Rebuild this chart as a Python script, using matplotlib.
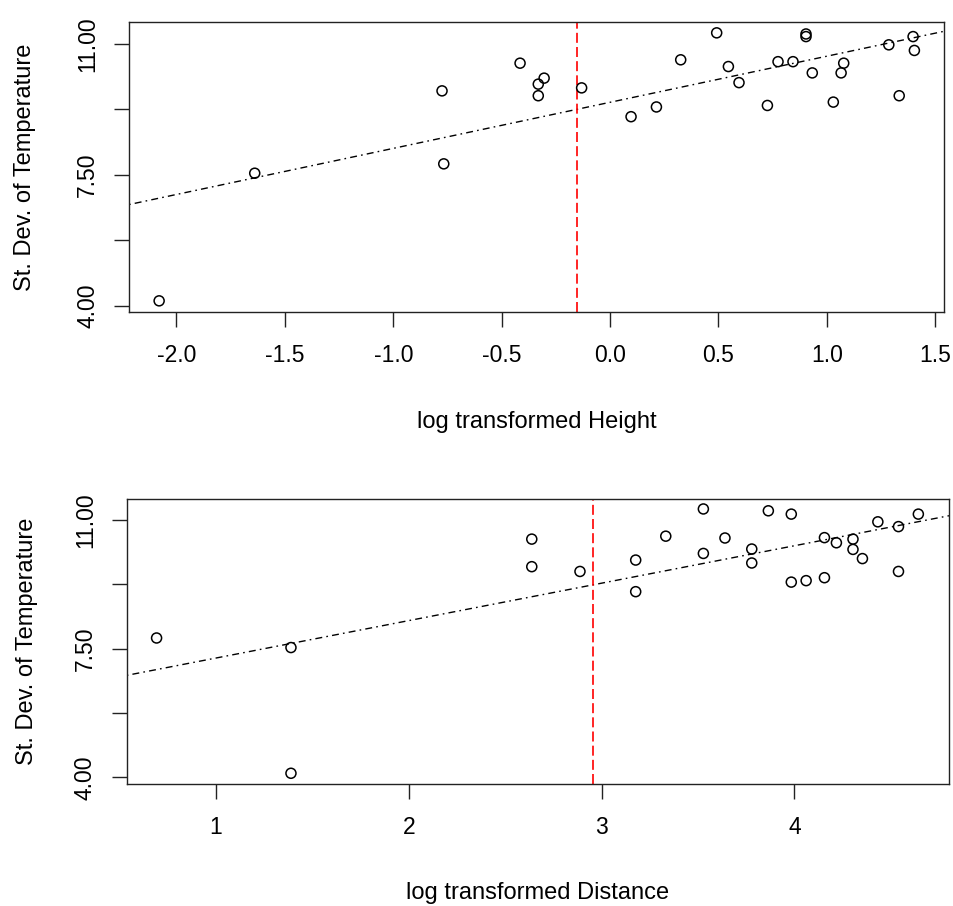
import numpy as np
import matplotlib
matplotlib.use("Agg")
import matplotlib.pyplot as plt

plt.rcParams["font.family"] = ["Liberation Sans", "DejaVu Sans"]

# log transformed height vs st. dev. of temperature
height_x = [-2.080, -1.639, -0.775, -0.767, -0.415, -0.331, -0.331, -0.304,
            -0.131, 0.097, 0.214, 0.326, 0.492, 0.546, 0.595, 0.726,
            0.775, 0.844, 0.904, 0.904, 0.933, 1.030, 1.066, 1.078,
            1.286, 1.334, 1.398, 1.404]
height_y = [4.13, 7.54, 9.74, 7.79, 10.48, 9.92, 9.61, 10.08,
            9.82, 9.05, 9.31, 10.57, 11.29, 10.39, 9.96, 9.35,
            10.52, 10.52, 11.26, 11.19, 10.22, 9.44, 10.22, 10.48,
            10.97, 9.61, 11.19, 10.82]
height_cut = -0.151

# log transformed distance vs st. dev. of temperature
dist_x = [0.692, 1.389, 1.389, 2.638, 2.638, 2.888, 3.177, 3.177,
          3.333, 3.528, 3.528, 3.640, 3.779, 3.779, 3.865, 3.984,
          3.984, 4.061, 4.156, 4.156, 4.218, 4.304, 4.304, 4.353,
          4.433, 4.540, 4.540, 4.643]
dist_y = [7.79, 7.53, 4.11, 10.48, 9.73, 9.60, 9.91, 9.05,
          10.56, 11.30, 10.09, 10.51, 10.21, 9.83, 11.25, 11.16,
          9.31, 9.35, 10.52, 9.43, 10.38, 10.48, 10.20, 9.95,
          10.95, 10.82, 9.60, 11.16]
dist_cut = 2.957

y_ticks = [4.0, 5.75, 7.5, 9.25, 11.0]
y_ticklabels = ["4.00", "", "7.50", "", "11.00"]
height_ticks = [-2.0, -1.5, -1.0, -0.5, 0.0, 0.5, 1.0, 1.5]
height_ticklabels = ["-2.0", "-1.5", "-1.0", "-0.5", "0.0", "0.5", "1.0", "1.5"]
dist_ticks = [1, 2, 3, 4]
dist_ticklabels = ["1", "2", "3", "4"]

W, H = 954, 906
fig = plt.figure(figsize=(W / 100, H / 100), dpi=100)


def px_axes(left, top, right, bottom):
    return fig.add_axes([left / W, 1 - bottom / H, (right - left) / W, (bottom - top) / H])


def panel(ax, x, y, cut, xlim, ylim, xticks, xticklabels, xlabel, ylabel_x, xlabel_y):
    ax.scatter(x, y, s=52, facecolors="none", edgecolors="black", linewidths=1.1, zorder=3)
    # least squares fit, drawn across the full x range
    slope, intercept = np.polyfit(x, y, 1)
    xs = np.array(xlim)
    ax.plot(xs, intercept + slope * xs, color="black", lw=1.0,
            linestyle=(0, (1.2, 3, 5, 3)), zorder=2)
    ax.axvline(cut, color="red", lw=1.2, linestyle=(0, (6, 2.5)), zorder=2)
    ax.set_xlim(*xlim)
    ax.set_ylim(*ylim)
    ax.set_xticks(xticks)
    ax.set_xticklabels(xticklabels)
    ax.set_yticks(y_ticks)
    ax.set_yticklabels(y_ticklabels, rotation=90, va="center")
    ax.tick_params(axis="both", length=10.5, width=1.0, labelsize=16.5, color="#222222")
    ax.tick_params(axis="x", pad=12)
    ax.tick_params(axis="y", pad=11)
    for sp in ax.spines.values():
        sp.set_linewidth(1.0)
        sp.set_color("#222222")
    ax.set_xlabel(xlabel, fontsize=17)
    ax.xaxis.label.set_va("center")
    ax.xaxis.set_label_coords(0.5, xlabel_y)
    ax.set_ylabel("St. Dev. of Temperature", fontsize=17)
    ax.yaxis.label.set_va("center")
    ax.yaxis.set_label_coords(ylabel_x, 0.5)


ax1 = px_axes(129, 21.7, 944.3, 312.3)
panel(ax1, height_x, height_y, height_cut, (-2.219, 1.542), (3.824, 11.588),
      height_ticks, height_ticklabels, "log transformed Height", -0.1276, -0.3765)

ax2 = px_axes(126.7, 499, 949, 784.3)
panel(ax2, dist_x, dist_y, dist_cut, (0.537, 4.802), (3.81, 11.571),
      dist_ticks, dist_ticklabels, "log transformed Distance", -0.1212, -0.381)

fig.savefig("out.png", dpi=100)
